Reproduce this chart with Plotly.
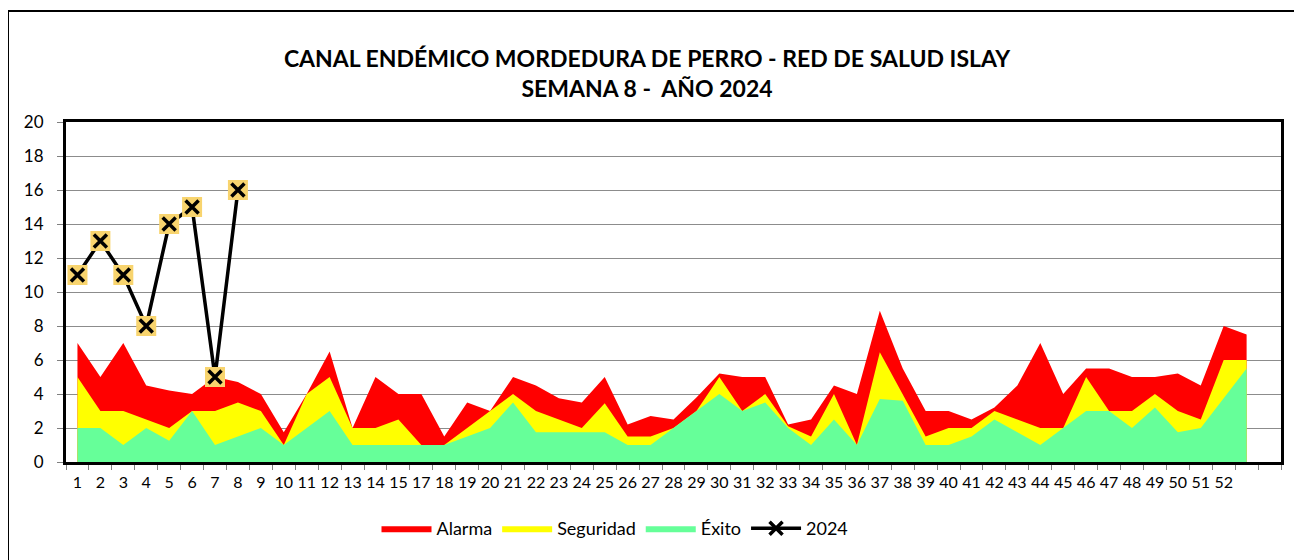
import plotly.graph_objects as go

# Etiquetas del eje X (semanas) tal como aparecen en el gráfico
etiquetas = [str(i) for i in range(1, 16)] + [str(i) for i in range(17, 53)]

# Límites del canal endémico (valor acumulado superior de cada zona)
alarma = [7, 5, 7, 4.5, 4.2, 4, 5, 4.7, 4, 1.75,
          4, 6.5, 2, 5, 4, 4, 1.5, 3.5, 3, 5,
          4.5, 3.75, 3.5, 5, 2.2, 2.7, 2.5, 3.8, 5.2, 5,
          5, 2.2, 2.5, 4.5, 4, 8.9, 5.5, 3, 3, 2.5,
          3.2, 4.5, 7, 4, 5.5, 5.5, 5, 5, 5.2, 4.5,
          8, 7.5]
seguridad = [5, 3, 3, 2.5, 2, 3, 3, 3.5, 3, 1,
             4, 5, 2, 2, 2.5, 1, 1, 2, 3, 4,
             3, 2.5, 2, 3.45, 1.5, 1.5, 2, 3, 5, 3,
             4, 2.1, 1.5, 4, 1, 6.45, 4, 1.5, 2, 2,
             3, 2.5, 2, 2, 5, 3, 3, 4, 3, 2.5,
             6, 6]
exito = [2, 2, 1, 2, 1.25, 3, 1, 1.5, 2, 1,
         2, 3, 1, 1, 1, 1, 1, 1.5, 2, 3.5,
         1.75, 1.75, 1.75, 1.75, 1, 1, 2, 3, 4, 3,
         3.5, 2, 1, 2.5, 1, 3.7, 3.6, 1, 1, 1.5,
         2.5, 1.75, 1, 2, 3, 3, 2, 3.2, 1.75, 2,
         3.75, 5.5]
casos_2024 = [11, 13, 11, 8, 14, 15, 5, 16]

pos = list(range(1, len(alarma) + 1))
pos_2024 = list(range(1, len(casos_2024) + 1))

FONT = "Lato, Carlito, Calibri, sans-serif"

# geometry (figure px; the page adds an 8px body offset)
L, T, PW, PH = 58, 114, 1215, 340

fig = go.Figure()
fig.add_trace(go.Scatter(x=pos, y=alarma, name="Alarma", mode="lines",
                         line=dict(width=0, color="#FF0000"),
                         fill="tozeroy", fillcolor="#FF0000"))
fig.add_trace(go.Scatter(x=pos, y=seguridad, name="Seguridad", mode="lines",
                         line=dict(width=0, color="#FFFF00"),
                         fill="tozeroy", fillcolor="#FFFF00"))
fig.add_trace(go.Scatter(x=pos, y=exito, name="Éxito", mode="lines",
                         line=dict(width=0, color="#66FF99"),
                         fill="tozeroy", fillcolor="#66FF99"))
# line (legend entry shows line + X)
fig.add_trace(go.Scatter(x=pos_2024, y=casos_2024, name="2024", mode="lines+markers",
                         legendgroup="2024",
                         line=dict(width=3.5, color="black"),
                         marker=dict(symbol="x-thin", size=13, color="black",
                                     line=dict(width=3.5, color="black"))))
fig.add_trace(go.Scatter(x=pos_2024, y=casos_2024, mode="markers",
                         marker=dict(symbol="square", size=20, color="#F8D46E",
                                     line=dict(width=0)),
                         showlegend=False, legendgroup="2024", hoverinfo="skip"))
fig.add_trace(go.Scatter(x=pos_2024, y=casos_2024, mode="markers",
                         marker=dict(symbol="x-thin", size=13, color="black",
                                     line=dict(width=3.5, color="black")),
                         showlegend=False, legendgroup="2024", hoverinfo="skip"))

bounds = [i + 0.5 for i in range(0, 54)]

fig.update_layout(
    width=1302, height=560,
    margin=dict(l=L, r=1302 - L - PW, t=T, b=560 - T - PH, autoexpand=False),
    paper_bgcolor="white", plot_bgcolor="white",
    font=dict(family=FONT, size=16, color="black"),
    title=dict(text="<b>CANAL ENDÉMICO MORDEDURA DE PERRO - RED DE SALUD ISLAY<br>SEMANA 8 -  AÑO 2024</b>",
               x=(647 - 8) / 1302, xanchor="center", y=0.895, yanchor="top",
               font=dict(family=FONT, size=23, color="black")),
    xaxis=dict(range=[0.5, 53.5], tickmode="array", tickvals=list(range(1, len(etiquetas) + 1)),
               ticktext=etiquetas, tickangle=0, ticks="", showgrid=False, zeroline=False,
               showline=True, linecolor="black", linewidth=3, mirror=True,
               tickfont=dict(family=FONT, size=16), ticklabelstandoff=4,
               minor=dict(tickmode="array", tickvals=bounds, ticks="outside", ticklen=5,
                          tickcolor="#808080", tickwidth=1, showgrid=False)),
    yaxis=dict(range=[0, 20], tickmode="linear", dtick=2, tick0=0,
               showgrid=True, gridcolor="#8C8C8C", gridwidth=1, zeroline=False,
               showline=True, linecolor="black", linewidth=3, mirror=True,
               ticks="outside", ticklen=6, tickcolor="#808080",
               tickfont=dict(family=FONT, size=17), ticklabelstandoff=10),
    legend=dict(orientation="h", x=(607 - L) / PW, xanchor="center", y=-0.141, yanchor="top",
                font=dict(family=FONT, size=18), itemwidth=50, traceorder="normal",
                bgcolor="rgba(0,0,0,0)"),
    showlegend=True,
)

# Marco exterior del gráfico
fig.add_shape(type="rect", xref="paper", yref="paper",
              x0=(0 - L) / PW, x1=(1330 - L) / PW,
              y0=(T + PH - 700) / PH, y1=(T + PH - 3) / PH,
              line=dict(color="black", width=2), fillcolor="rgba(0,0,0,0)", layer="below")

fig.write_html("out.html")
